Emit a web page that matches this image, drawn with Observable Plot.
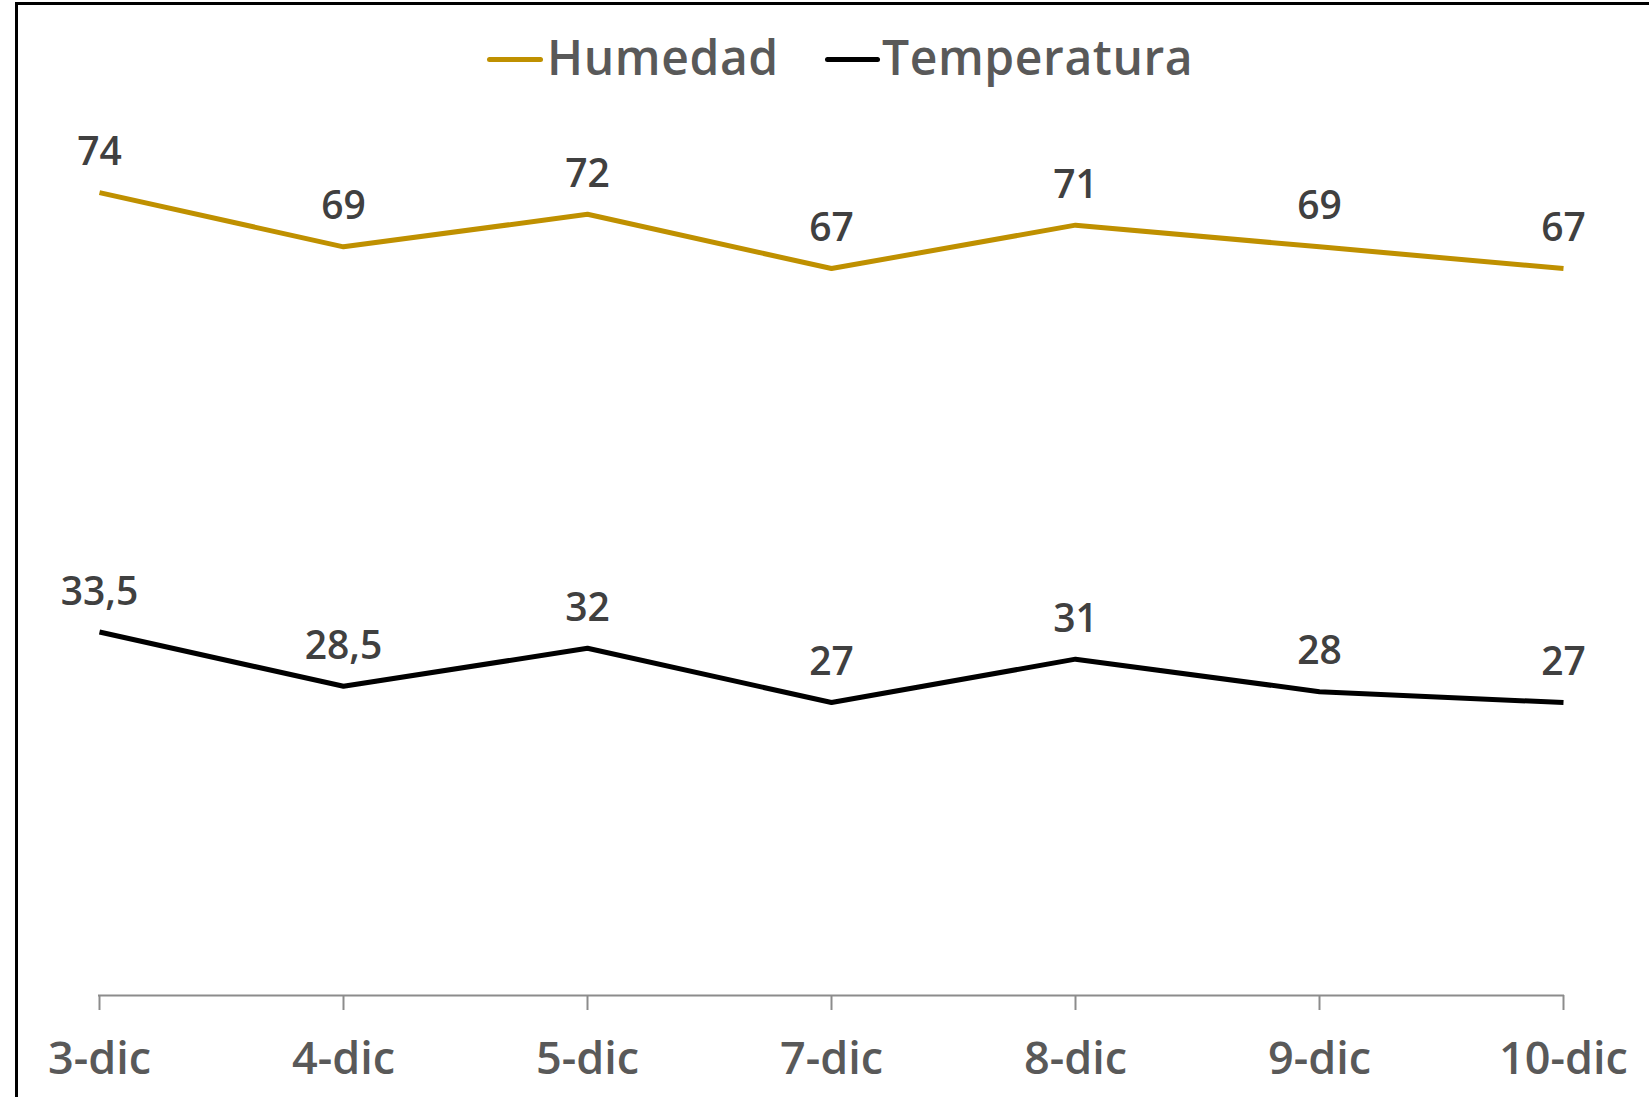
<!DOCTYPE html>
<html>
<head>
<meta charset="utf-8">
<script src="https://cdn.jsdelivr.net/npm/d3@7"></script>
<script src="https://cdn.jsdelivr.net/npm/@observablehq/plot@0.6"></script>
<style>
  html, body { margin: 0; padding: 0; background: #fff; overflow: hidden; }
  #page { position: relative; width: 1649px; height: 1097px; font-family: "Open Sans", sans-serif; }
  #frame { position: absolute; left: 15px; top: 2px; width: 1700px; height: 1200px;
           border-left: 3px solid #000; border-top: 3px solid #000; pointer-events: none; }
  #legend { position: relative; height: 120px; }
  .sw { position: absolute; height: 5px; border-radius: 3px; top: 57px; }
  .lt { position: absolute; top: 33px; font-size: 48px; line-height: 48px; letter-spacing: 0.6px; font-weight: 600; color: #595959; white-space: nowrap; }
  svg { display: block; }
  svg text { font-weight: 600; }
</style>
</head>
<body>
<div id="page">
  <div id="legend"></div>
  <div id="chart"></div>
  <div id="frame"></div>
</div>
<script>
const categories = ["3-dic", "4-dic", "5-dic", "7-dic", "8-dic", "9-dic", "10-dic"];
const humedad = [74, 69, 72, 67, 71, 69, 67];
const temperatura = [33.5, 28.5, 32, 27, 31, 28, 27];
const seriesNames = ["Humedad", "Temperatura"];
const seriesColors = ["#BF9000", "#000000"];

const rows = [];
categories.forEach((c, i) => {
  rows.push({serie: "Humedad", dia: c, valor: humedad[i]});
  rows.push({serie: "Temperatura", dia: c, valor: temperatura[i]});
});
const fmt = v => String(v).replace(".", ",");

// Legend (HTML, above the SVG)
const legend = document.getElementById("legend");
const legendPos = [{sw: 487, swW: 56, tx: 547}, {sw: 825, swW: 55, tx: 882}];
seriesNames.forEach((name, i) => {
  const s = document.createElement("div");
  s.className = "sw";
  s.style.left = legendPos[i].sw + "px";
  s.style.width = legendPos[i].swW + "px";
  s.style.background = seriesColors[i];
  legend.appendChild(s);
  const t = document.createElement("div");
  t.className = "lt";
  t.style.left = legendPos[i].tx + "px";
  t.textContent = name;
  legend.appendChild(t);
});

const chart = Plot.plot({
  width: 1649,
  height: 977,
  marginLeft: 98,
  marginRight: 85,
  marginTop: 7,
  marginBottom: 102,
  style: {fontFamily: "'Open Sans', sans-serif", background: "transparent"},
  x: {type: "point", domain: categories, padding: 0},
  y: {domain: [0, 80], axis: null},
  color: {domain: seriesNames, range: seriesColors},
  marks: [
    Plot.ruleY([0], {stroke: "#8c8c8c", strokeWidth: 2}),
    Plot.axisX({tickSize: 15, tickPadding: 32, fontSize: 45, stroke: "#8c8c8c", strokeWidth: 2, fill: "#595959", label: null}),
    Plot.line(rows, {x: "dia", y: "valor", z: "serie", stroke: "serie", strokeWidth: 5, strokeLinejoin: "miter", strokeLinecap: "butt"}),
    Plot.text(rows, {x: "dia", y: "valor", text: d => fmt(d.valor), dy: -40, fontSize: 39, fill: "#404040"})
  ]
});
document.getElementById("chart").appendChild(chart);
</script>
</body>
</html>
